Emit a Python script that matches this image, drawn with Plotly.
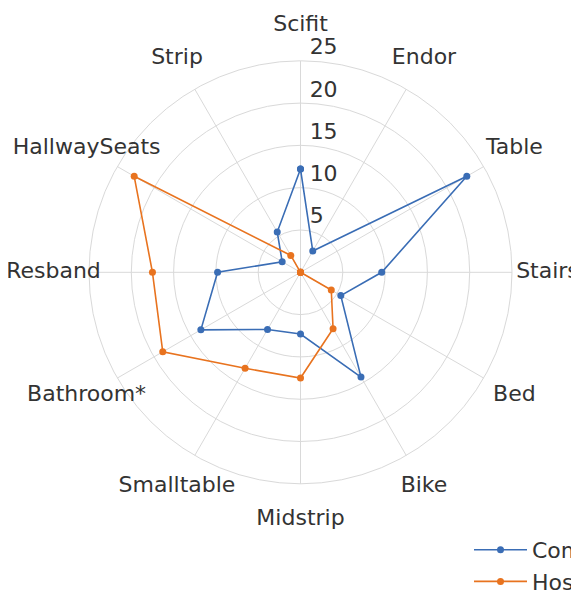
import plotly.graph_objects as go

categories = ["Scifit", "Endor", "Table", "Stairs", "Bed", "Bike", "Midstrip",
              "Smalltable", "Bathroom*", "Resband", "HallwaySeats", "Strip"]
community = [12.2, 2.9, 22.7, 9.6, 5.5, 14.3, 7.3, 7.8, 13.6, 9.8, 2.5, 5.5]
hospital = [0, 0, 0, 0, 4.2, 7.7, 12.5, 13.1, 18.8, 17.5, 22.7, 2.3]
series_names = ["Community", "Hospital"]
colors = ["#3a6db5", "#e8731f"]
radial_ticks = [5, 10, 15, 20, 25]
r_max = 25

W, H = 579, 595
OFF = 8  # page body margin
cx, cy, R = 300.5 - OFF, 272.3 - OFF, 211.5
R2 = 262.0                       # overlay polar (pixel units) for labels
px_per_unit = R / r_max
label_r = 247.0                  # category label centre radius (px)
tick_dy = 12.0                   # radial tick labels sit just above each ring (px)

def dom(rad):
    return dict(x=[(cx - rad) / W, (cx + rad) / W],
                y=[(H - cy - rad) / H, (H - cy + rad) / H])

fig = go.Figure()
for name, vals, col in zip(series_names, [community, hospital], colors):
    fig.add_trace(go.Scatterpolar(
        r=vals + vals[:1], theta=categories + categories[:1],
        mode="lines+markers", name=name,
        line=dict(color=col, width=1.6),
        marker=dict(color=col, size=7),
    ))

# radial tick labels (overlay subplot, pixel radial units)
fig.add_trace(go.Scatterpolar(
    r=[v * px_per_unit + tick_dy for v in radial_ticks],
    theta=[categories[0]] * len(radial_ticks), subplot="polar2",
    mode="markers+text", text=[str(v) for v in radial_ticks],
    textposition="middle right", marker=dict(size=13, opacity=0),
    textfont=dict(size=22, color="#333333", family="DejaVu Sans"),
    showlegend=False, hoverinfo="skip", cliponaxis=False,
))

# category labels
fig.add_trace(go.Scatterpolar(
    r=[label_r] * len(categories), theta=categories, subplot="polar2",
    mode="text", text=categories, textposition="middle center",
    textfont=dict(size=22, color="#333333", family="DejaVu Sans"),
    showlegend=False, hoverinfo="skip", cliponaxis=False,
))

hidden_ang = dict(direction="clockwise", rotation=90, categoryorder="array",
                  categoryarray=categories, showline=False, showgrid=False,
                  ticks="", showticklabels=False)

fig.update_layout(
    width=W, height=H,
    margin=dict(l=0, r=0, t=0, b=0, autoexpand=False),
    paper_bgcolor="white",
    font=dict(family="DejaVu Sans", size=22, color="#333333"),
    polar=dict(
        domain=dom(R),
        bgcolor="white",
        angularaxis=dict(direction="clockwise", rotation=90,
                         categoryorder="array", categoryarray=categories,
                         showline=True, linecolor="#d9d9d9", linewidth=1,
                         gridcolor="#d9d9d9", gridwidth=1, ticks="",
                         showticklabels=False),
        radialaxis=dict(range=[0, r_max], tickvals=radial_ticks, angle=90,
                        showline=False, gridcolor="#d9d9d9", gridwidth=1,
                        ticks="", showticklabels=False),
    ),
    polar2=dict(
        domain=dom(R2),
        bgcolor="rgba(0,0,0,0)",
        angularaxis=hidden_ang,
        radialaxis=dict(range=[0, R2], visible=False, showgrid=False,
                        showline=False, showticklabels=False, ticks=""),
    ),
    showlegend=True,
    legend=dict(x=(469 - OFF) / W, y=(H - 529 + OFF) / H, xanchor="left", yanchor="top",
                itemwidth=53,
                bgcolor="rgba(0,0,0,0)", font=dict(size=22, color="#333333")),
)

fig.write_html("out.html")
